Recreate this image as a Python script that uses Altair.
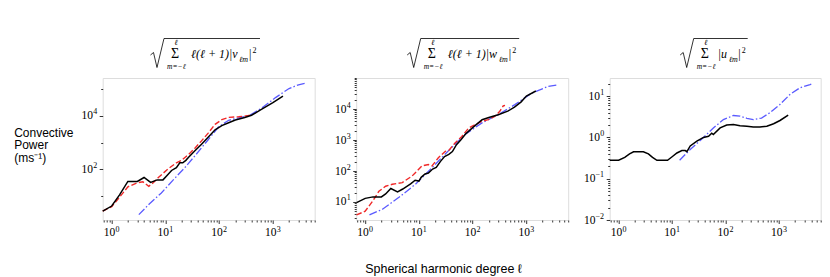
import math
import altair as alt
import pandas as pd

# ---------------- data ----------------
# Panel 1: sqrt(sum l(l+1)|v_lm|^2)
p1_black_l = [0.68, 1.0, 1.4, 2.0, 3.0, 4.0, 5.3, 7.0, 9.0, 10.5, 13, 16, 18.5, 21, 24, 27, 35, 47, 63, 84, 112, 150, 200, 300, 400, 600, 1000, 1540]
p1_black_v = [2.7, 4.2, 11, 35, 35, 49, 32, 40, 40, 56, 90, 115, 175, 175, 215, 280, 480, 860, 1600, 3000, 4300, 5500, 7000, 8600, 10500, 17000, 31000, 55000]
p1_red_l = [0.68, 1.0, 1.4, 2.0, 3.0, 3.8, 4.9, 6.0, 7.3, 11, 16, 20, 27, 35, 47, 63, 84, 112, 150, 230, 330, 400]
p1_red_v = [2.7, 4.0, 9, 22, 31, 34, 23, 32, 48, 100, 175, 215, 360, 600, 1150, 2300, 4800, 7200, 8700, 9200, 10000, 11000]
p1_blue_l = [3.2, 5, 8.4, 14, 23, 35, 63, 97, 150, 230, 355, 630, 1120, 2000, 3000, 4000]
p1_blue_v = [2.0, 5, 13, 40, 115, 310, 1300, 3800, 6800, 8300, 10000, 20000, 48000, 105000, 145000, 165000]

# Panel 2: sqrt(sum l(l+1)|w_lm|^2)
p2_black_l = [0.69, 1.0, 1.4, 2.0, 2.4, 3.0, 4.0, 5.0, 7.0, 8.5, 10, 11, 13, 15, 18, 21, 25, 30, 36, 42, 50, 60, 75, 100, 150, 200, 300, 450, 600, 800, 1000, 1500]
p2_black_v = [9.5, 13, 14.5, 14.5, 18, 27, 21, 26, 38, 50, 47, 62, 80, 85, 115, 130, 200, 290, 340, 420, 700, 1000, 1600, 2500, 4500, 5300, 6500, 8500, 11500, 17000, 26000, 38000]
p2_red_l = [0.69, 1.0, 1.4, 1.8, 2.4, 3.2, 4.9, 7.5, 11.4, 15, 17.5, 23, 31, 36, 47, 63, 84, 111, 147, 195, 260, 320, 370, 400]
p2_red_v = [3.8, 5.0, 11, 22, 32, 37, 42, 69, 145, 160, 145, 265, 430, 460, 800, 1300, 2400, 3100, 4000, 4500, 5800, 8400, 12500, 13000]
p2_blue_l = [1.2, 2.1, 4.25, 8.6, 17.5, 36, 72, 147, 300, 610, 1240, 2500, 3900]
p2_blue_v = [3.8, 5.8, 14, 37, 126, 460, 1500, 3500, 6600, 13800, 32000, 53000, 60000]

# Panel 3: sqrt(sum |u_lm|^2)
p3_black_l = [0.68, 1.0, 1.3, 1.6, 1.9, 2.9, 3.6, 4.3, 5.2, 8.2, 10, 12.3, 15.2, 17.6, 18.9, 21.8, 29, 38.6, 48, 55, 59, 79, 105, 140, 186, 250, 330, 440, 590, 790, 1040, 1480]
p3_black_v = [0.28, 0.28, 0.33, 0.40, 0.45, 0.45, 0.40, 0.33, 0.28, 0.28, 0.34, 0.42, 0.48, 0.48, 0.45, 0.62, 0.81, 1.0, 1.07, 1.26, 1.17, 1.7, 2.0, 2.05, 1.93, 1.87, 1.78, 1.78, 1.87, 2.14, 2.57, 3.47]
p3_blue_l = [13.8, 21.8, 38.6, 59, 91, 140, 186, 250, 330, 470, 680, 1040, 1600, 2450, 3800, 4000]
p3_blue_v = [0.28, 0.51, 1.0, 1.7, 2.7, 3.4, 3.3, 2.9, 2.7, 2.95, 4.0, 6.3, 11, 15.9, 19, 19.5]

X_DOMAIN = [0.68, 6000]
Y1_DOMAIN = [1.26, 260000]
Y2_DOMAIN = [2.6, 100000]
Y3_DOMAIN = [0.01, 27.5]

# tick labels (10 to the power of ...)
x_label_values = [1.0, 10.0, 100.0, 1000.0]
y1_label_values = [100.0, 10000.0]
y2_label_values = [10.0, 100.0, 1000.0, 10000.0]
y3_label_values = [0.01, 0.1, 1.0, 10.0]

Y_TITLE = ["Convective", "Power", "(ms⁻¹)"]
X_TITLE = "Spherical harmonic degree ℓ"

W = 212
H = 142
LABEL_FONT = "Liberation Serif"
MATH_FONT = "Liberation Serif"


def exp_str(v):
    e = round(math.log10(v))
    return str(e).replace("-", "−")


def minor_major_values(lo, hi):
    vals = []
    for e in range(-3, 7):
        for m in range(1, 10):
            v = float(f"{m}e{e}")
            if lo <= v <= hi:
                vals.append(v)
    return vals


def make_axis(values, majors, title=None, **kw):
    test = " || ".join(f"datum.value == {v!r}" for v in majors)
    args = dict(
        values=values,
        labels=False,
        tickSize={"condition": {"test": test, "value": 3.5}, "value": 2},
        grid=False,
        domain=False,
        tickColor="black",
        tickWidth=0.8,
    )
    args["title"] = title
    args.update(kw)
    return alt.Axis(**args)


def one(text_value):
    return alt.Data(values=[{"t": text_value}])


def math_title(base, main_x, sub_x, bar_x, two_x, end_x, main_text):
    layers = []
    segs = [(0, -23, 3, -25.5), (3, -25.5, 6.5, -10.5), (6.5, -10.5, 13.5, -39.5), (13.5, -39.5, end_x, -39.5)]
    for (a, b, c, d) in segs:
        layers.append(
            alt.Chart(one("r")).mark_rule(color="black", strokeWidth=0.8).encode(
                x=alt.value(base + a), y=alt.value(b), x2=alt.value(base + c), y2=alt.value(d)
            )
        )
    pieces = [
        ("Σ", 24.5, -20, 14, "normal", "center"),
        ("ℓ", 25.5, -33.5, 8, "italic", "center"),
        ("m=−ℓ", 25.8, -9.5, 7.5, "italic", "center"),
        (main_text, main_x, -19.7, 12, "italic", "left"),
        ("ℓm", sub_x, -16.5, 8, "italic", "left"),
        ("|", bar_x, -19.7, 12, "normal", "left"),
        ("2", two_x, -25, 8, "normal", "left"),
    ]
    for (t, dx, y, size, style, align) in pieces:
        layers.append(
            alt.Chart(one(t)).mark_text(
                font=MATH_FONT, fontSize=size, fontStyle=style, align=align,
                baseline="alphabetic", color="black"
            ).encode(text="t:N", x=alt.value(base + dx), y=alt.value(y))
        )
    return layers


def xscale():
    return alt.Scale(type="log", domain=X_DOMAIN)


def yscale(ydom):
    return alt.Scale(type="log", domain=ydom)


def lines(ls, vs, style, xaxis, yaxis, ydom):
    df = pd.DataFrame({"l": ls, "v": vs})
    styles = {
        "black": dict(color="black", strokeWidth=1.5),
        "red": dict(color="#f02828", strokeWidth=1.4, strokeDash=[5.5, 2.4]),
        "blue": dict(color="#5a5aff", strokeWidth=1.3, strokeDash=[8, 2.2, 1.5, 2.2]),
    }
    return alt.Chart(df).mark_line(**styles[style]).encode(
        x=alt.X("l:Q", scale=xscale(), axis=xaxis),
        y=alt.Y("v:Q", scale=yscale(ydom), axis=yaxis),
        order="l:Q",
    )


def x_labels(xaxis):
    df = pd.DataFrame({"l": x_label_values, "e": [exp_str(v) for v in x_label_values]})
    base = alt.Chart(df)
    ten = base.mark_text(text="10", font=LABEL_FONT, fontSize=11.5, align="right",
                         baseline="alphabetic", dx=3.5, color="black").encode(
        x=alt.X("l:Q", scale=xscale(), axis=xaxis), y=alt.value(H + 16))
    ex = base.mark_text(font=LABEL_FONT, fontSize=8, align="left",
                        baseline="alphabetic", dx=3.8, color="black").encode(
        x=alt.X("l:Q", scale=xscale(), axis=xaxis), y=alt.value(H + 12), text="e:N")
    return [ten, ex]


def y_labels(values, yaxis, ydom):
    out = []
    groups = {}
    for v in values:
        s = exp_str(v)
        groups.setdefault(len(s), []).append(v)
    for n, vals in groups.items():
        ew = 4.2 if n == 1 else 8.8
        df = pd.DataFrame({"v": vals, "e": [exp_str(v) for v in vals]})
        base = alt.Chart(df)
        out.append(base.mark_text(text="10", font=LABEL_FONT, fontSize=11.5, align="right",
                                  baseline="alphabetic", dy=3.6, color="black").encode(
            y=alt.Y("v:Q", scale=yscale(ydom), axis=yaxis), x=alt.value(-5.5 - ew)))
        out.append(base.mark_text(font=LABEL_FONT, fontSize=8, align="left",
                                  baseline="alphabetic", dy=-1.4, color="black").encode(
            y=alt.Y("v:Q", scale=yscale(ydom), axis=yaxis), x=alt.value(-5.3 - ew), text="e:N"))
    return out


xvals = minor_major_values(X_DOMAIN[0], X_DOMAIN[1])
xaxis = make_axis(xvals, x_label_values)

# panel 1
y1axis = make_axis(
    [10.0, 100.0, 1000.0, 10000.0, 100000.0], y1_label_values, title=Y_TITLE,
    titleAngle=0, titleAlign="left", titleBaseline="alphabetic", titleX=-89, titleY=58,
    titleFont="Liberation Sans", titleFontSize=12, titleFontWeight="normal",
    titleLineHeight=12.7, titleColor="black",
)
p1 = alt.layer(
    lines(p1_blue_l, p1_blue_v, "blue", xaxis, y1axis, Y1_DOMAIN),
    lines(p1_red_l, p1_red_v, "red", xaxis, y1axis, Y1_DOMAIN),
    lines(p1_black_l, p1_black_v, "black", xaxis, y1axis, Y1_DOMAIN),
    *x_labels(xaxis),
    *y_labels(y1_label_values, y1axis, Y1_DOMAIN),
    *math_title(47.8, 40.5, 88.5, 98.5, 102, 109.5, "ℓ(ℓ + 1)|v"),
).properties(width=W, height=H)

# panel 2
y2axis = make_axis(minor_major_values(Y2_DOMAIN[0], Y2_DOMAIN[1]), y2_label_values)
xt = alt.Chart(one(X_TITLE)).mark_text(
    font="Liberation Sans", fontSize=12.5, align="left", baseline="alphabetic", color="black"
).encode(text="t:N", x=alt.value(9), y=alt.value(194.7))
p2 = alt.layer(
    lines(p2_blue_l, p2_blue_v, "blue", xaxis, y2axis, Y2_DOMAIN),
    lines(p2_red_l, p2_red_v, "red", xaxis, y2axis, Y2_DOMAIN),
    lines(p2_black_l, p2_black_v, "black", xaxis, y2axis, Y2_DOMAIN),
    *x_labels(xaxis),
    *y_labels(y2_label_values, y2axis, Y2_DOMAIN),
    *math_title(51, 40.5, 91.5, 101.5, 105, 112, "ℓ(ℓ + 1)|w"),
    xt,
).properties(width=W, height=H)

# panel 3
y3axis = make_axis(minor_major_values(Y3_DOMAIN[0], Y3_DOMAIN[1]), y3_label_values)
p3 = alt.layer(
    lines(p3_blue_l, p3_blue_v, "blue", xaxis, y3axis, Y3_DOMAIN),
    lines(p3_black_l, p3_black_v, "black", xaxis, y3axis, Y3_DOMAIN),
    *x_labels(xaxis),
    *y_labels(y3_label_values, y3axis, Y3_DOMAIN),
    *math_title(70.5, 37.5, 48.5, 58, 61.5, 67.5, "|u"),
).properties(width=W - 1, height=H)

chart = alt.hconcat(p1, p2, p3, spacing=41.5, bounds="flush").properties(
    padding={"left": 4.7, "top": 29, "right": 0, "bottom": 0}
).configure_view(stroke="#222222", strokeWidth=0.9).configure(background="white")

chart.save("out.html", embed_options={"renderer": "svg", "actions": False})
